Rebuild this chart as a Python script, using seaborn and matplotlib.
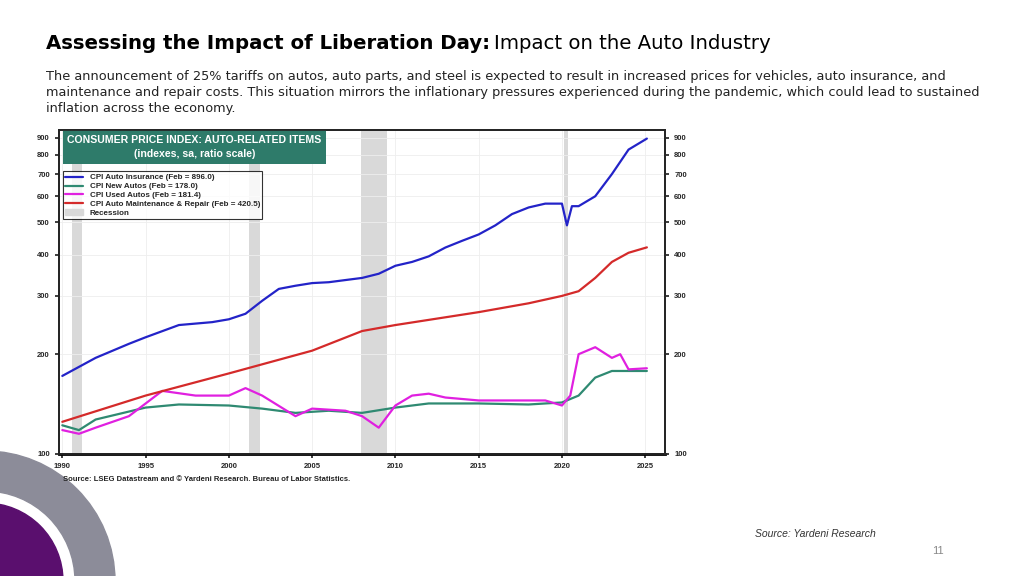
import matplotlib
matplotlib.use("Agg")
import matplotlib.pyplot as plt
import matplotlib.patches as mpatches
import matplotlib.ticker as mticker
import seaborn as sns
import pandas as pd

sns.set_theme(style="white")
plt.rcParams['font.family'] = ['Liberation Sans', 'DejaVu Sans']

# values
ins_years = [1990, 1992, 1994, 1995, 1997, 1999, 2000, 2001, 2002, 2003, 2004, 2005, 2006, 2007, 2008, 2009,
             2010, 2011, 2012, 2013, 2014, 2015, 2016, 2017, 2018, 2019, 2020, 2020.3, 2020.6, 2021, 2022, 2023, 2024, 2025.1]
ins_vals = [172, 195, 215, 225, 245, 250, 255, 265, 290, 315, 322, 328, 330, 335, 340, 350,
            370, 380, 395, 420, 440, 460, 490, 530, 555, 570, 570, 490, 560, 560, 600, 700, 830, 896]
rep_years = [1990, 1995, 2000, 2005, 2008, 2010, 2015, 2018, 2020, 2021, 2022, 2023, 2024, 2025.1]
rep_vals = [125, 150, 175, 205, 235, 245, 268, 285, 300, 310, 340, 380, 405, 420.5]
new_years = [1990, 1991, 1992, 1995, 1997, 2000, 2002, 2004, 2006, 2008, 2010, 2012, 2015, 2018, 2020, 2021, 2022, 2023, 2024, 2025.1]
new_vals = [122, 118, 127, 138, 141, 140, 137, 133, 135, 133, 138, 142, 142, 141, 143, 150, 170, 178, 178, 178]
used_years = [1990, 1991, 1992, 1994, 1996, 1998, 2000, 2001, 2002, 2004, 2005, 2007, 2008, 2009, 2010, 2011,
              2012, 2013, 2015, 2017, 2019, 2020, 2020.5, 2021, 2022, 2023, 2023.5, 2024, 2025.1]
used_vals = [118, 115, 120, 130, 155, 150, 150, 158, 150, 130, 137, 135, 130, 120, 140, 150,
             152, 148, 145, 145, 145, 140, 150, 200, 210, 195, 200, 180, 181.4]
recessions = [(1990.6, 1991.2), (2001.2, 2001.9), (2007.95, 2009.5), (2020.15, 2020.35)]

series = [
    ("CPI Auto Insurance (Feb = 896.0)", ins_years, ins_vals, "#2323c8"),
    ("CPI New Autos (Feb = 178.0)", new_years, new_vals, "#2f8a72"),
    ("CPI Used Autos (Feb = 181.4)", used_years, used_vals, "#e020e0"),
    ("CPI Auto Maintenance & Repair (Feb = 420.5)", rep_years, rep_vals, "#d42a2a"),
]

fig = plt.figure(figsize=(10.24, 5.76), dpi=100)
fig.patch.set_facecolor("white")

# slide text
t1 = fig.text(0.045, 0.915, "Assessing the Impact of Liberation Day:", fontsize=14.2, fontweight="bold",
              color="black", family=["DejaVu Sans"])
fig.canvas.draw()
bb = t1.get_window_extent()
fig.text(bb.x1 / 1024 + 0.004, 0.915, "Impact on the Auto Industry", fontsize=14.2, color="black",
         family=["DejaVu Sans"])
para = ["The announcement of 25% tariffs on autos, auto parts, and steel is expected to result in increased prices for vehicles, auto insurance, and",
        "maintenance and repair costs. This situation mirrors the inflationary pressures experienced during the pandemic, which could lead to sustained",
        "inflation across the economy."]
for i, line in enumerate(para):
    fig.text(0.045, 0.868 - i * 0.028, line, fontsize=9.25, color="#222222", family=["DejaVu Sans"], va="center")
fig.text(0.737, 0.068, "Source: Yardeni Research", fontsize=7.5, style="italic", color="#333333")
fig.text(0.91, 0.038, "11", fontsize=8, color="#888888")
fig.text(0.062, 0.165, "Source: LSEG Datastream and \u00a9 Yardeni Research. Bureau of Labor Statistics.",
         fontsize=5.5, fontweight="bold", color="#222222")

# decorative arcs bottom-left
deco = fig.add_axes([0, 0, 1, 1], zorder=-1)
deco.set_xlim(0, 1024)
deco.set_ylim(0, 576)
deco.axis("off")
deco.add_patch(mpatches.Wedge((-15, -5), 130, 0, 90, width=40, color="#8c8c99"))
deco.add_patch(mpatches.Wedge((-15, -5), 78, 0, 90, color="#5a0f6e"))

ax = fig.add_axes([0.0576, 0.212, 0.592, 0.562])
for x0, x1 in recessions:
    ax.axvspan(x0, x1, color="#d9d9d9", lw=0, zorder=0)
for label, xs, ys, c in series:
    df = pd.DataFrame({"year": xs, "value": ys})
    sns.lineplot(data=df, x="year", y="value", color=c, lw=1.6, ax=ax, label=label)

ax.set_yscale("log")
ax.set_ylim(100, 950)
ax.set_xlim(1989.8, 2026.2)
yt = [100, 200, 300, 400, 500, 600, 700, 800, 900]
ax.yaxis.set_major_locator(mticker.FixedLocator(yt))
ax.yaxis.set_minor_locator(mticker.NullLocator())
ax.yaxis.set_major_formatter(mticker.FixedFormatter([str(v) for v in yt]))
ax.set_xticks(list(range(1990, 2026, 5)))
ax.tick_params(labelsize=5.5, length=3, direction="out", left=True, bottom=True)
for t in ax.get_xticklabels() + ax.get_yticklabels():
    t.set_fontweight("bold")
ax.grid(True, color="#eeeeee", lw=0.6)
ax.set_xlabel("")
ax.set_ylabel("")
for s in ax.spines.values():
    s.set_color("black")
    s.set_linewidth(1.2)
ax.spines["bottom"].set_linewidth(2)

ax2 = ax.twinx()
ax2.set_yscale("log")
ax2.set_ylim(ax.get_ylim())
ax2.yaxis.set_major_locator(mticker.FixedLocator(yt))
ax2.yaxis.set_minor_locator(mticker.NullLocator())
ax2.yaxis.set_major_formatter(mticker.FixedFormatter([str(v) for v in yt]))
ax2.tick_params(labelsize=5.5, length=3, right=True)
for t in ax2.get_yticklabels():
    t.set_fontweight("bold")
ax2.grid(False)

handles, labels = ax.get_legend_handles_labels()
handles.append(mpatches.Patch(color="#d9d9d9"))
labels.append("Recession")
leg = ax.legend(handles, labels, loc="upper left", bbox_to_anchor=(0.0, 0.885),
                prop={"weight": "bold", "size": 5.8}, frameon=True, fancybox=False,
                handlelength=2.2, borderpad=0.3, labelspacing=0.15, edgecolor="black")
leg.get_frame().set_linewidth(0.8)

ax.text(0.014, 0.985, "CONSUMER PRICE INDEX: AUTO-RELATED ITEMS\n(indexes, sa, ratio scale)",
        transform=ax.transAxes, ha="left", va="top", fontsize=7.6, fontweight="bold", color="white",
        linespacing=1.5, multialignment="center",
        bbox=dict(boxstyle="square,pad=0.45", fc="#2e7b6a", ec="none"))

fig.savefig("out.png", dpi=100)
